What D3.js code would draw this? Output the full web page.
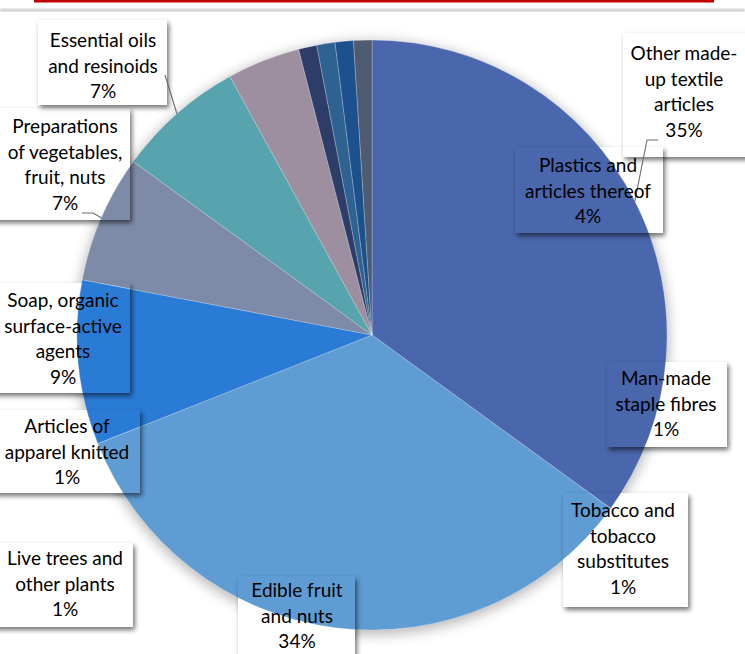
<!DOCTYPE html>
<html lang="en">
<head>
    <meta charset="UTF-8">
    <title>Export share pie</title>
    <style>
        body {
            margin: 0;
            padding: 0;
            background: #fff;
        }
        svg {
            display: block;
            font-family: 'Lato', 'Open Sans', sans-serif;
        }
    </style>
</head>
<body>
    <svg width="745" height="654"></svg>

    <script src="https://d3js.org/d3.v7.min.js"></script>

    <script>
        // Slices, clockwise from 12 o'clock
        const categories = [
            'Other made-up textile articles',
            'Edible fruit and nuts',
            'Soap, organic surface-active agents',
            'Preparations of vegetables, fruit, nuts',
            'Essential oils and resinoids',
            'Plastics and articles thereof',
            'Man-made staple fibres',
            'Tobacco and tobacco substitutes',
            'Live trees and other plants',
            'Articles of apparel knitted'
        ];
        const values = [35, 34, 9, 7, 7, 4, 1, 1, 1, 1];
        const colors = ['#4a66ac', '#5f9cd3', '#2a7bd6', '#7e8ba8', '#58a4ae',
                        '#9e8fa0', '#2c3d6a', '#2e6391', '#1d518d', '#4f5b70'];

        // how each label is wrapped in the picture
        const labelLines = [
            ['Other made-', 'up textile', 'articles'],
            ['Edible fruit', 'and nuts'],
            ['Soap, organic', 'surface-active', 'agents'],
            ['Preparations', 'of vegetables,', 'fruit, nuts'],
            ['Essential oils', 'and resinoids'],
            ['Plastics and', 'articles thereof'],
            ['Man-made', 'staple fibres'],
            ['Tobacco and', 'tobacco', 'substitutes'],
            ['Live trees and', 'other plants'],
            ['Articles of', 'apparel knitted']
        ];

        const width = 745;
        const height = 654;
        const cx = 372, cy = 335, radius = 295;
        const lineH = 25.7;

        // label boxes: x, y, w, h, text centre, first baseline
        const boxes = [
            [623, 33, 130, 124, 684, 60],
            [238, 576, 117, 90, 297, 597],
            [-6, 283, 136, 110, 63, 307],
            [-6, 108, 136, 112, 65, 133],
            [38, 20, 129, 85, 103, 47],
            [515, 147, 148, 86, 588, 172],
            [607, 362, 120, 85, 666, 385],
            [563, 493, 125, 114, 623, 517],
            [-6, 543, 139, 84, 65, 565],
            [-6, 410, 146, 83, 67, 433]
        ];
        // leader line start points (slice index -> points before the arc)
        const leaders = {
            0: [[658, 140], [647, 140]],
            3: [[82, 213], [93, 213]],
            4: [[165, 75]]
        };

        const svg = d3.select('svg');
        const defs = svg.append('defs');

        defs.append('filter').attr('id', 'glow')
            .attr('x', '-20%').attr('y', '-20%').attr('width', '140%').attr('height', '140%')
            .append('feGaussianBlur').attr('stdDeviation', 7);

        defs.append('filter').attr('id', 'boxShadow')
            .attr('x', '-20%').attr('y', '-20%').attr('width', '140%').attr('height', '140%')
            .append('feGaussianBlur').attr('stdDeviation', 2.5);

        defs.append('filter').attr('id', 'soft')
            .append('feGaussianBlur').attr('stdDeviation', 0.8);

        // mask so a box shadow only shows outside its own box
        boxes.forEach((b, i) => {
            const m = defs.append('mask').attr('id', 'm' + i)
                .attr('maskUnits', 'userSpaceOnUse')
                .attr('x', 0).attr('y', 0).attr('width', width).attr('height', height);
            m.append('rect').attr('width', width).attr('height', height).attr('fill', '#fff');
            m.append('rect').attr('x', b[0]).attr('y', b[1])
                .attr('width', b[2]).attr('height', b[3]).attr('fill', '#000');
        });

        // header rules
        svg.append('rect').attr('x', 34).attr('y', 0).attr('width', 680).attr('height', 2.5)
            .attr('fill', '#c00000');
        svg.append('rect').attr('x', 0).attr('y', 9).attr('width', width).attr('height', 2.5)
            .attr('fill', '#c4c4c4').attr('filter', 'url(#soft)');

        // soft shadow around the pie
        svg.append('circle')
            .attr('cx', cx).attr('cy', cy + 3).attr('r', radius + 1)
            .attr('fill', '#000').attr('opacity', 0.3)
            .attr('filter', 'url(#glow)');

        // label boxes are white where they sit off the pie
        svg.append('g').selectAll('rect')
            .data(boxes)
            .join('rect')
                .attr('x', d => d[0]).attr('y', d => d[1])
                .attr('width', d => d[2]).attr('height', d => d[3])
                .attr('fill', '#fff');

        const pie = d3.pie().sort(null).value(d => d)(values);
        const arc = d3.arc().innerRadius(0).outerRadius(radius);
        const rimArc = d3.arc().innerRadius(radius).outerRadius(radius);

        const g = svg.append('g').attr('transform', `translate(${cx},${cy})`);
        g.selectAll('path')
            .data(pie)
            .join('path')
                .attr('d', arc)
                .attr('fill', (d, i) => colors[i])
                .attr('stroke', '#fff')
                .attr('stroke-opacity', 0.35)
                .attr('stroke-width', 0.7);

        // box shadows (drawn over the pie, outside each box only)
        svg.append('g').selectAll('rect')
            .data(boxes)
            .join('rect')
                .attr('x', d => d[0] + 2).attr('y', d => d[1] + 3)
                .attr('width', d => d[2]).attr('height', d => d[3])
                .attr('fill', '#000').attr('opacity', 0.55)
                .attr('filter', 'url(#boxShadow)')
                .attr('mask', (d, i) => `url(#m${i})`);

        // leader lines to the middle of the slice rim
        const line = d3.line();
        Object.keys(leaders).forEach(k => {
            const c = rimArc.centroid(pie[+k]);
            const pts = leaders[k].concat([[cx + c[0], cy + c[1]]]);
            svg.append('path')
                .attr('d', line(pts))
                .attr('fill', 'none')
                .attr('stroke', '#6b6b6b')
                .attr('stroke-width', 1.1);
        });

        const total = d3.sum(values);
        const pct = v => Math.round(v / total * 100) + '%';

        const labels = svg.append('g')
            .selectAll('text')
            .data(categories)
            .join('text')
                .attr('text-anchor', 'middle')
                .attr('font-size', 19)
                .attr('fill', '#000');

        labels.each(function(d, i) {
            const b = boxes[i];
            const lines = labelLines[i].concat([pct(values[i])]);
            d3.select(this).selectAll('tspan')
                .data(lines)
                .join('tspan')
                    .attr('x', b[4])
                    .attr('y', (t, j) => b[5] + j * lineH)
                    .text(t => t);
        });
    </script>
</body>
</html>
